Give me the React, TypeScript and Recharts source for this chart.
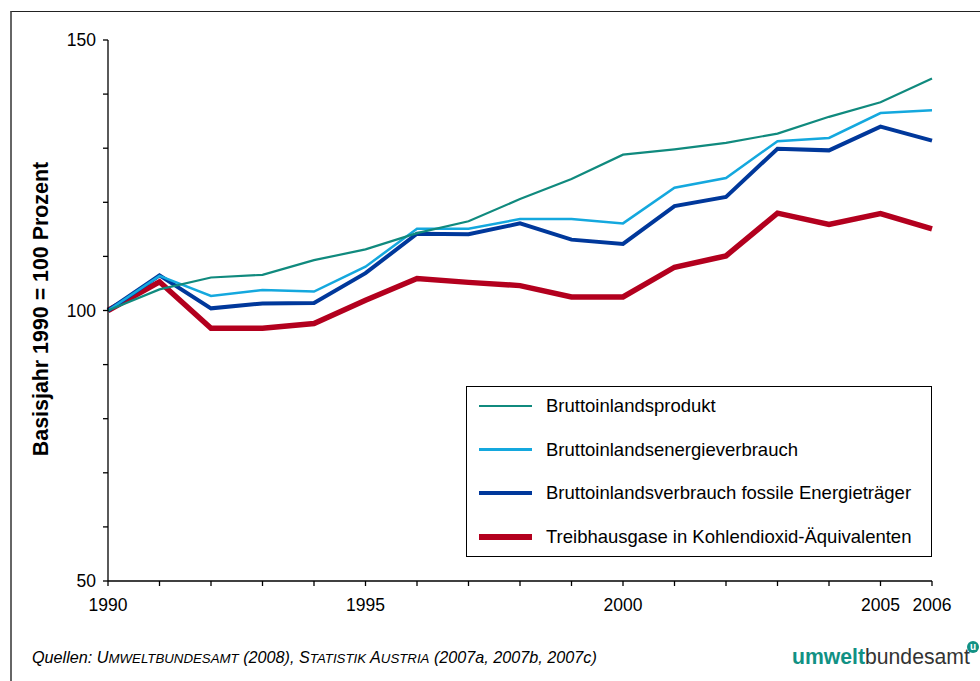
import React from 'react';
import { LineChart, Line, XAxis, YAxis } from 'recharts';

const years = [1990, 1991, 1992, 1993, 1994, 1995, 1996, 1997, 1998, 1999, 2000, 2001, 2002, 2003, 2004, 2005, 2006];
const bruttoinlandsprodukt = [100, 103.9, 106.1, 106.6, 109.3, 111.3, 114.3, 116.5, 120.6, 124.3, 128.8, 129.8, 131.0, 132.7, 135.8, 138.5, 142.9];
const energieverbrauch = [100, 106.4, 102.7, 103.8, 103.5, 108.1, 115.1, 115.1, 116.9, 116.9, 116.1, 122.7, 124.5, 131.3, 131.9, 136.5, 137.0];
const fossilVerbrauch = [100, 106.5, 100.4, 101.3, 101.4, 106.9, 114.2, 114.1, 116.1, 113.1, 112.3, 119.3, 121.0, 129.9, 129.6, 134.0, 131.4];
const treibhausgase = [100, 105.3, 96.7, 96.7, 97.6, 101.9, 105.9, 105.2, 104.6, 102.5, 102.5, 108.0, 110.1, 118.0, 115.9, 117.9, 115.1];

const xTickLabels = [1990, 1995, 2000, 2005, 2006];
const yTicks = [50, 60, 70, 80, 90, 100, 110, 120, 130, 140, 150];
const yTickLabels = [50, 100, 150];

const series = [
  { key: 'thg', name: 'Treibhausgase in Kohlendioxid-Äquivalenten', color: '#b3001e', width: 5.5 },
  { key: 'fossil', name: 'Bruttoinlandsverbrauch fossile Energieträger', color: '#00389b', width: 4 },
  { key: 'energie', name: 'Bruttoinlandsenergieverbrauch', color: '#14a8de', width: 2.5 },
  { key: 'bip', name: 'Bruttoinlandsprodukt', color: '#108a7e', width: 2.2 },
];
const legendOrder = ['bip', 'energie', 'fossil', 'thg'];

const data = years.map((y, i) => ({
  year: y,
  bip: bruttoinlandsprodukt[i],
  energie: energieverbrauch[i],
  fossil: fossilVerbrauch[i],
  thg: treibhausgase[i],
}));

const FONT = '"Liberation Sans", Arial, sans-serif';

function SmallCaps({ text }: { text: string }) {
  return (
    <span>
      {text.split(' ').map((w, i) => (
        <span key={i}>
          {i > 0 ? ' ' : ''}
          {w.charAt(0).toUpperCase()}
          <span style={{ fontSize: '0.82em' }}>{w.slice(1).toUpperCase()}</span>
        </span>
      ))}
    </span>
  );
}

export default function App() {
  return (
    <div style={{ position: 'absolute', left: 0, top: 0, width: 980, height: 681, overflow: 'hidden', background: '#fff', fontFamily: FONT }}>
      <div style={{ position: 'absolute', left: 10, top: 11, width: 990, height: 700, borderTop: '1.5px solid #222', borderLeft: '2px solid #666' }} />
      <div style={{ position: 'absolute', left: 0, top: 0 }}>
        <LineChart width={980} height={681} data={data} margin={{ top: 40, right: 48, bottom: 60, left: 48 }}>
          <XAxis
            dataKey="year"
            type="number"
            domain={[1990, 2006]}
            ticks={years}
            interval={0}
            tickFormatter={(v: number) => (xTickLabels.includes(v) ? String(v) : '')}
            height={40}
            stroke="#000"
            strokeWidth={1.3}
            tickSize={5}
            tickMargin={13}
            tick={{ fill: '#000', fontSize: 17.5, fontFamily: FONT }}
            tickLine={{ stroke: '#000' }}
          />
          <YAxis
            type="number"
            domain={[50, 150]}
            ticks={yTicks}
            interval={0}
            tickFormatter={(v: number) => (yTickLabels.includes(v) ? String(v) : '')}
            width={60}
            stroke="#000"
            strokeWidth={1.3}
            tickSize={5}
            tickMargin={7}
            tick={{ fill: '#000', fontSize: 17.5, fontFamily: FONT }}
            tickLine={{ stroke: '#000' }}
            label={{
              content: () => (
                <text
                  x={41}
                  y={309}
                  transform="rotate(-90 41 309)"
                  textAnchor="middle"
                  dominantBaseline="central"
                  style={{ fontFamily: FONT, fontSize: 21.4, fontWeight: 'bold', fill: '#000' }}
                >
                  Basisjahr 1990 = 100 Prozent
                </text>
              ),
            }}
          />
          {series.map((s) => (
            <Line
              key={s.key}
              type="linear"
              dataKey={s.key}
              name={s.name}
              stroke={s.color}
              strokeWidth={s.width}
              dot={false}
              activeDot={false}
              isAnimationActive={false}
              strokeLinejoin="miter"
            />
          ))}
        </LineChart>
      </div>
      <div
        style={{
          position: 'absolute',
          left: 466,
          top: 386,
          width: 466,
          height: 171,
          boxSizing: 'border-box',
          border: '1.5px solid #000',
          background: '#fff',
        }}
      >
        {legendOrder.map((k, i) => {
          const s = series.find((x) => x.key === k)!;
          return (
            <div key={k} style={{ position: 'absolute', left: 0, top: 19 + i * 43.7 - 12, height: 24, width: '100%' }}>
              <div style={{ position: 'absolute', left: 12, top: 12 - s.width / 2, width: 53, height: s.width, background: s.color }} />
              <div style={{ position: 'absolute', left: 79, top: 0, lineHeight: '24px', fontSize: 18.5, color: '#000', whiteSpace: 'nowrap' }}>{s.name}</div>
            </div>
          );
        })}
      </div>
      <div style={{ position: 'absolute', left: 32, top: 649, fontSize: 16.2, lineHeight: '16px', fontStyle: 'italic', color: '#000', whiteSpace: 'nowrap' }}>
        Quellen: <SmallCaps text="Umweltbundesamt" /> (2008), <SmallCaps text="Statistik Austria" /> (2007a, 2007b, 2007c)
      </div>
      <div style={{ position: 'absolute', left: 792, top: 646, fontSize: 21.2, lineHeight: '22px', whiteSpace: 'nowrap' }}>
        <span style={{ color: '#119184', fontWeight: 'bold' }}>umwelt</span>
        <span style={{ color: '#333' }}>bundesamt</span>
      </div>
      <div
        style={{
          position: 'absolute',
          left: 967,
          top: 641,
          width: 12,
          height: 12,
          borderRadius: '50%',
          background: '#119184',
          color: '#fff',
          fontSize: 10,
          lineHeight: '11px',
          textAlign: 'center',
          fontWeight: 'bold',
        }}
      >
        u
      </div>
    </div>
  );
}
